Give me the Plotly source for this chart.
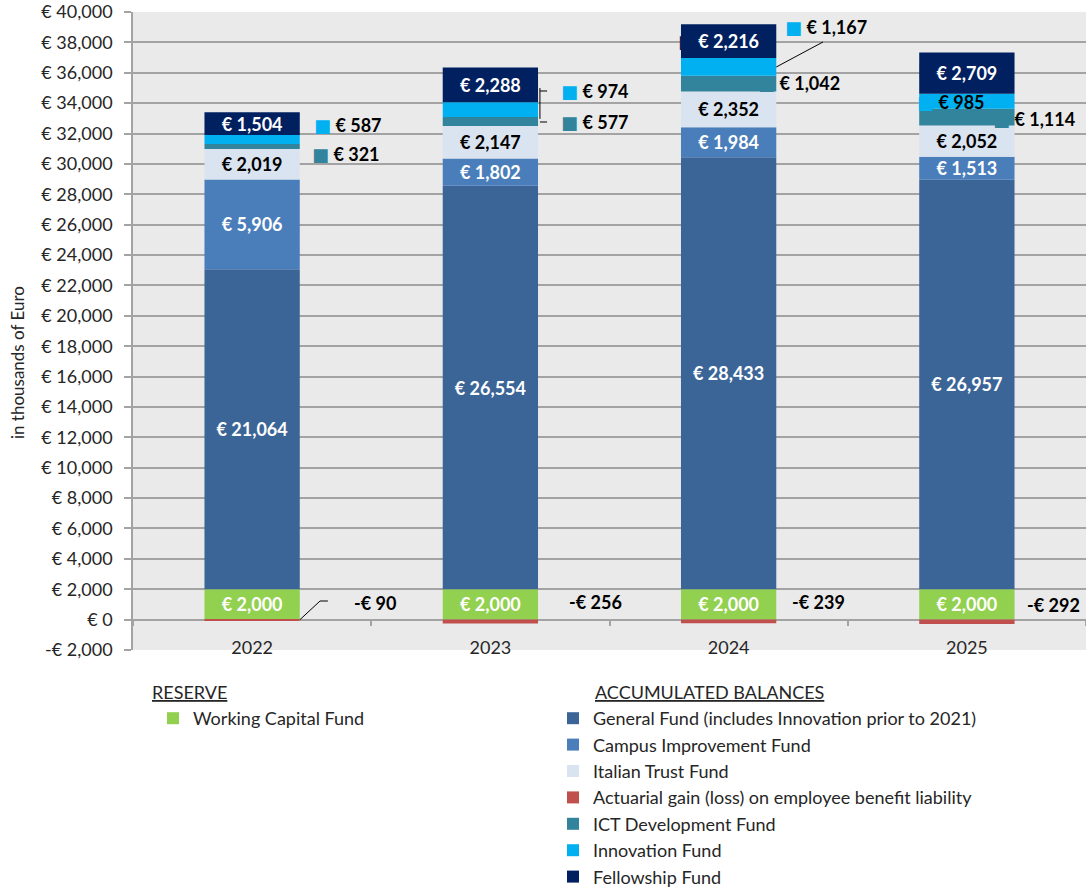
import plotly.graph_objects as go

# ---------------- data ----------------
years = ["2022", "2023", "2024", "2025"]
working_capital = [2000, 2000, 2000, 2000]
general_fund = [21064, 26554, 28433, 26957]
campus_improvement = [5906, 1802, 1984, 1513]
italian_trust = [2019, 2147, 2352, 2052]
actuarial = [-90, -256, -239, -292]
ict_development = [321, 577, 1042, 1114]
innovation = [587, 974, 1167, 985]
fellowship = [1504, 2288, 2216, 2709]

y_tick_values = [-2000, 0, 2000, 4000, 6000, 8000, 10000, 12000, 14000, 16000,
                 18000, 20000, 22000, 24000, 26000, 28000, 30000, 32000, 34000,
                 36000, 38000, 40000]
y_tick_labels = ["-€ 2,000", "€ 0", "€ 2,000", "€ 4,000", "€ 6,000", "€ 8,000",
                 "€ 10,000", "€ 12,000", "€ 14,000", "€ 16,000", "€ 18,000",
                 "€ 20,000", "€ 22,000", "€ 24,000", "€ 26,000", "€ 28,000",
                 "€ 30,000", "€ 32,000", "€ 34,000", "€ 36,000", "€ 38,000",
                 "€ 40,000"]

# ---------------- style ----------------
FONT = "Lato, 'DejaVu Sans', sans-serif"
C_WCF = "#92D050"
C_GEN = "#3C6597"
C_CAMPUS = "#4A7EBB"
C_ITALIAN = "#DAE3F0"
C_ACT = "#C0504D"
C_ICT = "#31849B"
C_INNOV = "#00B0F0"
C_FELLOW = "#002060"
GRID = "#A3A3A3"
TXT = "#262626"
W, H = 1086, 888


def bar(name, vals, color, legend, text_color=None):
    kw = dict(x=years, y=vals, name=name, legend=legend, showlegend=True,
              marker=dict(color=color, line=dict(width=0)),
              hovertemplate=name + ": €%{y:,.0f}<extra></extra>")
    if text_color:
        kw.update(texttemplate="€ %{y:,.0f}", textposition="inside",
                  insidetextanchor="middle", textangle=0,
                  textfont=dict(family=FONT, size=18, color=text_color, weight="bold"))
    else:
        kw.update(textposition="none")
    return go.Bar(**kw)


fig = go.Figure()
fig.add_trace(bar("Working Capital Fund", working_capital, C_WCF, "legend", "white"))
fig.add_trace(bar("General Fund (includes Innovation prior to 2021)", general_fund, C_GEN, "legend2", "white"))
fig.add_trace(bar("Campus Improvement Fund", campus_improvement, C_CAMPUS, "legend2", "white"))
fig.add_trace(bar("Italian Trust Fund", italian_trust, C_ITALIAN, "legend2", "black"))
fig.add_trace(bar("Actuarial gain (loss) on employee benefit liability", actuarial, C_ACT, "legend2"))
fig.add_trace(bar("ICT Development Fund", ict_development, C_ICT, "legend2"))
fig.add_trace(bar("Innovation Fund", innovation, C_INNOV, "legend2"))
fig.add_trace(bar("Fellowship Fund", fellowship, C_FELLOW, "legend2", "white"))

# ---------------- outside data labels ----------------
LBL = dict(family=FONT, size=18, color="black", weight="bold")


def key_label(color, value):
    return f"<span style='color:{color}'>■</span> € {value:,}"


annotations = []


def add_label(x, y, text):
    annotations.append(dict(x=x, y=y, xref="x", yref="y", text=text, showarrow=False,
                            xanchor="left", yanchor="middle", font=LBL))


# Innovation fund labels
add_label(0.251, 32561, key_label(C_INNOV, innovation[0]))
add_label(1.288, 34799, key_label(C_INNOV, innovation[1]))
add_label(2.228, 39012, key_label(C_INNOV, innovation[2]))
add_label(2.782, 34075, key_label(C_INNOV, innovation[3]))
# ICT labels
add_label(0.243, 30652, key_label(C_ICT, ict_development[0]))
add_label(1.288, 32758, key_label(C_ICT, ict_development[1]))
add_label(2.115, 35326, key_label(C_ICT, ict_development[2]))
add_label(3.101, 32956, key_label(C_ICT, ict_development[3]))
# Actuarial labels
add_label(0.419, 1093, f"-€ {abs(actuarial[0]):,}")
add_label(1.322, 1159, f"-€ {abs(actuarial[1]):,}")
add_label(2.258, 1159, f"-€ {abs(actuarial[2]):,}")
add_label(3.244, 961, f"-€ {abs(actuarial[3]):,}")
# fellowship label keys sticking out of the bars
for xk, yk in [(1.780, 38091), (2.785, 36280)]:
    annotations.append(dict(x=xk, y=yk, xref="x", yref="y",
                            text=f"<span style='color:{C_FELLOW}'>■</span>",
                            showarrow=False, xanchor="left", yanchor="middle", font=LBL))

# legend headers
HDR = dict(family=FONT, size=18, color=TXT)
annotations.append(dict(x=0.0178, y=-0.0658, xref="paper", yref="paper",
                        text="<u>RESERVE</u>", showarrow=False, xanchor="left",
                        yanchor="middle", font=HDR))
annotations.append(dict(x=0.4822, y=-0.0658, xref="paper", yref="paper",
                        text="<u>ACCUMULATED BALANCES</u>",
                        showarrow=False, xanchor="left", yanchor="middle", font=HDR))
# y-axis title
annotations.append(dict(x=-0.1205, y=0.45, xref="paper", yref="paper", text="in thousands of Euro",
                        textangle=-90, showarrow=False, xanchor="center", yanchor="middle",
                        font=dict(family=FONT, size=17, color=TXT)))

# leader lines
shapes = []
for x0, y0, x1, y1 in [
    (0.201, 0, 0.285, 1225), (0.285, 1225, 0.318, 1225),
    (1.208, 32964, 1.208, 34992), (1.208, 34800, 1.238, 34800), (1.208, 32759, 1.238, 32759),
    (2.2, 36379, 2.396, 38025),
]:
    shapes.append(dict(type="line", xref="x", yref="y", x0=x0, y0=y0, x1=x1, y1=y1,
                       line=dict(color="black", width=1)))

LEG_FONT = dict(family=FONT, size=18, color=TXT)
fig.update_layout(
    width=W, height=H,
    margin=dict(l=133, r=0, t=12, b=H - 650, autoexpand=False),
    barmode="relative", bargap=0.6,
    plot_bgcolor="#EAEAEA", paper_bgcolor="white",
    font=dict(family=FONT, size=18, color=TXT),
    uniformtext=dict(minsize=18, mode="show"),
    showlegend=True,
    annotations=annotations, shapes=shapes,
    legend=dict(x=153 / W, y=1 - 700 / H, xref="container", yref="container",
                xanchor="left", yanchor="top", traceorder="normal",
                font=LEG_FONT, bgcolor="rgba(0,0,0,0)"),
    legend2=dict(x=553 / W, y=1 - 700 / H, xref="container", yref="container",
                 xanchor="left", yanchor="top", traceorder="normal",
                 font=LEG_FONT, bgcolor="rgba(0,0,0,0)"),
    xaxis=dict(type="category", range=[-0.5, 3.5], anchor="free", position=2000 / 42000,
               showline=False, showgrid=False, ticks="outside", tickson="boundaries",
               ticklen=5, tickcolor=GRID, tickwidth=1.5, ticklabelstandoff=15,
               tickfont=dict(family=FONT, size=18, color=TXT)),
    yaxis=dict(range=[-2000, 40000], tickmode="array", tickvals=y_tick_values,
               ticktext=y_tick_labels, showgrid=True, gridcolor=GRID, gridwidth=1.5,
               zeroline=False, showline=True, linecolor=GRID, linewidth=1.5,
               ticks="outside", ticklen=7, tickcolor=GRID, tickwidth=1.5,
               ticklabeloverflow="allow",
               ticklabelstandoff=8, tickfont=dict(family=FONT, size=18, color=TXT)),
)

# remove the browser's default 8px page margin so the figure fills the window exactly
fig.write_html("out.html", config={"displayModeBar": False},
               post_script="document.body.style.margin='0';")
